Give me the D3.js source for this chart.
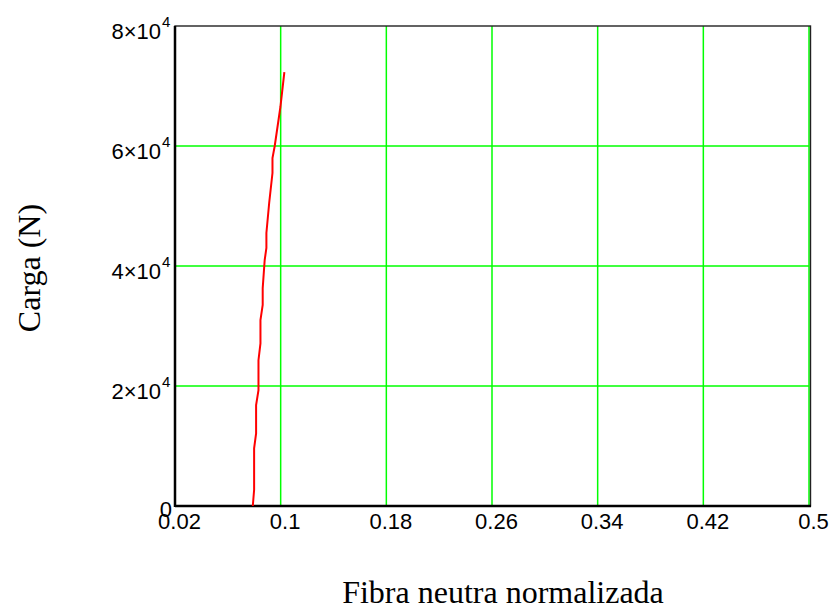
<!DOCTYPE html>
<html>
<head>
<meta charset="utf-8">
<script src="https://cdn.jsdelivr.net/npm/d3@7"></script>
<style>
  body { margin: 0; background: #fff; }
</style>
</head>
<body>
<div id="canvas"></div>
<script>
// fibra neutra normalizada vs carga
var fibra = [0.0789, 0.0799, 0.0799, 0.0814, 0.0814, 0.0832, 0.0832, 0.0847, 0.0847, 0.0864,
             0.0864, 0.0879, 0.0892, 0.0892, 0.0913, 0.0938, 0.0938, 0.0955, 0.0998, 0.1028];
var carga = [0, 2700, 9600, 12100, 16800, 19300, 24300, 27100, 31000, 33500,
             36300, 41000, 43000, 45500, 50500, 55500, 58000, 60000, 66500, 72300];
var xTicks = [0.02, 0.1, 0.18, 0.26, 0.34, 0.42, 0.5];
var xTickLabels = ["0.02", "0.1", "0.18", "0.26", "0.34", "0.42", "0.5"];
var yTicks = [0, 20000, 40000, 60000, 80000];
var yTickMant = ["0", "2", "4", "6", "8"];

var width = 831, height = 610;
var margin = {left: 175, right: 22, top: 26, bottom: 104};
var w = width - margin.left - margin.right;
var h = height - margin.top - margin.bottom;

var svg = d3.select("#canvas").append("svg")
  .attr("width", width)
  .attr("height", height);
var g = svg.append("g")
  .attr("transform", "translate(" + margin.left + "," + margin.top + ")");

var x = d3.scaleLinear().domain([0.02, 0.5]).range([0, w]);
var y = d3.scaleLinear().domain([0, 80000]).range([h, 0]);

// grid
g.selectAll(".vgrid").data(xTicks.slice(1)).enter()
  .append("line")
  .attr("x1", d => x(d)).attr("x2", d => x(d))
  .attr("y1", 0).attr("y2", h)
  .attr("stroke", "#00ff00").attr("stroke-width", 1.5);
g.selectAll(".hgrid").data(yTicks.slice(1, 4)).enter()
  .append("line")
  .attr("x1", 0).attr("x2", w)
  .attr("y1", d => y(d)).attr("y2", d => y(d))
  .attr("stroke", "#00ff00").attr("stroke-width", 1.5);

// frame
g.append("rect")
  .attr("x", 0).attr("y", 0)
  .attr("width", w + 1.5).attr("height", h)
  .attr("fill", "none")
  .attr("stroke", "#222").attr("stroke-width", 1.4);
g.append("line")
  .attr("x1", 0).attr("x2", 0).attr("y1", 0).attr("y2", h + 1)
  .attr("stroke", "#000").attr("stroke-width", 2.5);
g.append("line")
  .attr("x1", 0).attr("x2", w + 2).attr("y1", h).attr("y2", h)
  .attr("stroke", "#000").attr("stroke-width", 2.5);

// x tick labels
g.selectAll(".xlab").data(xTicks).enter()
  .append("text")
  .attr("x", d => x(d) + 4.5)
  .attr("y", h + 23)
  .attr("text-anchor", "middle")
  .attr("font-family", "Liberation Sans, Arial, sans-serif")
  .attr("font-size", "22px")
  .text((d, i) => xTickLabels[i]);

// y tick labels
var yl = g.selectAll(".ylab").data(yTicks).enter()
  .append("g")
  .attr("transform", d => "translate(-3," + (y(d) + (d === 0 ? 11 : 13)) + ")");
yl.each(function(d, i) {
  var t = d3.select(this);
  if (d === 0) {
    t.append("text")
      .attr("text-anchor", "end")
      .attr("font-family", "Liberation Sans, Arial, sans-serif")
      .attr("font-size", "22px")
      .text("0");
  } else {
    t.append("text")
      .attr("x", -11)
      .attr("text-anchor", "end")
      .attr("font-family", "Liberation Sans, Arial, sans-serif")
      .attr("font-size", "22px")
      .text(yTickMant[i] + "\u00d710");
    t.append("text")
      .attr("x", -10)
      .attr("y", -12)
      .attr("font-family", "Liberation Sans, Arial, sans-serif")
      .attr("font-size", "15px")
      .text("4");
  }
});

// curve
var pts = fibra.map((d, i) => [d, carga[i]]);
var line = d3.line().x(d => x(d[0])).y(d => y(d[1]));
g.append("path")
  .datum(pts)
  .attr("d", line)
  .attr("fill", "none")
  .attr("stroke", "#ff0000")
  .attr("stroke-width", 2);

// axis titles
svg.append("text")
  .attr("x", 503)
  .attr("y", 603)
  .attr("text-anchor", "middle")
  .attr("font-family", "Liberation Serif, Times New Roman, serif")
  .attr("font-size", "32px")
  .text("Fibra neutra normalizada");
svg.append("text")
  .attr("transform", "translate(40,268) rotate(-90)")
  .attr("text-anchor", "middle")
  .attr("font-family", "Liberation Serif, Times New Roman, serif")
  .attr("font-size", "32px")
  .text("Carga (N)");
</script>
</body>
</html>
